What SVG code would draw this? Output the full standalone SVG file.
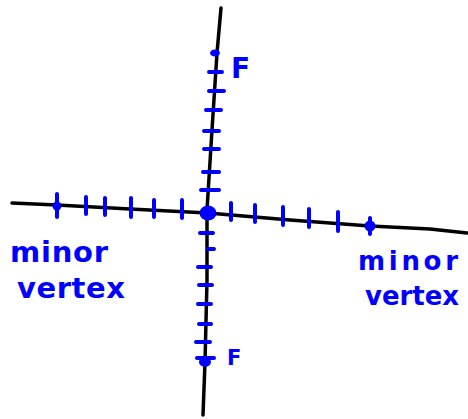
<svg xmlns="http://www.w3.org/2000/svg" width="468" height="419" viewBox="0 0 468 419">
<style>
.axis{fill:none;stroke:#000;stroke-width:3.5;stroke-linecap:round;stroke-linejoin:round}
.tick{stroke:#0000ff;stroke-width:4;stroke-linecap:round;fill:none}
.dot{fill:#0000ff}
.lbl{font-family:"DejaVu Sans","Liberation Sans",sans-serif;font-weight:bold;fill:#0000ff}
</style>
<rect width="468" height="419" fill="#fff"/>
<g id="connectors">
<path class="axis" d="M12,203 Q35,204 57,205 L130,209 L208,213 L290,220 L370,226 L430,229 L467,233"/>
<path class="axis" d="M221,8 L217,53 L212,130 L207,210 L207,280 L205,362 L203,415"/>
</g>
<g id="ticks">
<path class="tick" d="M57,194 V217 M86,197 V214 M105,198 V215 M131,198 V217 M154,200 V217 M182,200 V218 M231,203 V220 M255,205 V222 M283,207 V225 M309,209 V227 M338,212 V231 M370,218 V234"/>
<path class="tick" d="M209,72 H222 M209,91 H224 M206,110 H221 M204,131 H219 M204,149 H219 M203,172 H219 M201,190 H219"/>
<path class="tick" d="M200,233 H213 M208,249 H214 M198,267 H211 M199,285 H212 M198,304 H211 M199,324 H211 M196,342 H210 M197,358 H214"/>
</g>
<g id="center"><ellipse class="dot" cx="208" cy="213" rx="8.5" ry="7.5"/></g>
<g id="vertex-left">
<circle class="dot" cx="57" cy="206" r="4.5"/>
<text class="lbl" x="10" y="262" font-size="29" textLength="98" lengthAdjust="spacing">minor</text>
<text class="lbl" x="17" y="298" font-size="29" textLength="108" lengthAdjust="spacing">vertex</text>
</g>
<g id="vertex-right">
<circle class="dot" cx="370" cy="226" r="5.5"/>
<text class="lbl" x="358" y="270" font-size="26" textLength="100" lengthAdjust="spacing">minor</text>
<text class="lbl" x="365" y="305" font-size="26" textLength="94" lengthAdjust="spacing">vertex</text>
</g>
<g id="focus-top">
<ellipse class="dot" cx="215" cy="53" rx="5" ry="3.5"/>
<text class="lbl" x="231" y="78" font-size="28">F</text>
</g>
<g id="focus-bottom">
<ellipse class="dot" cx="205" cy="362" rx="6" ry="5"/>
<text class="lbl" x="227" y="365" font-size="21">F</text>
</g>
</svg>
